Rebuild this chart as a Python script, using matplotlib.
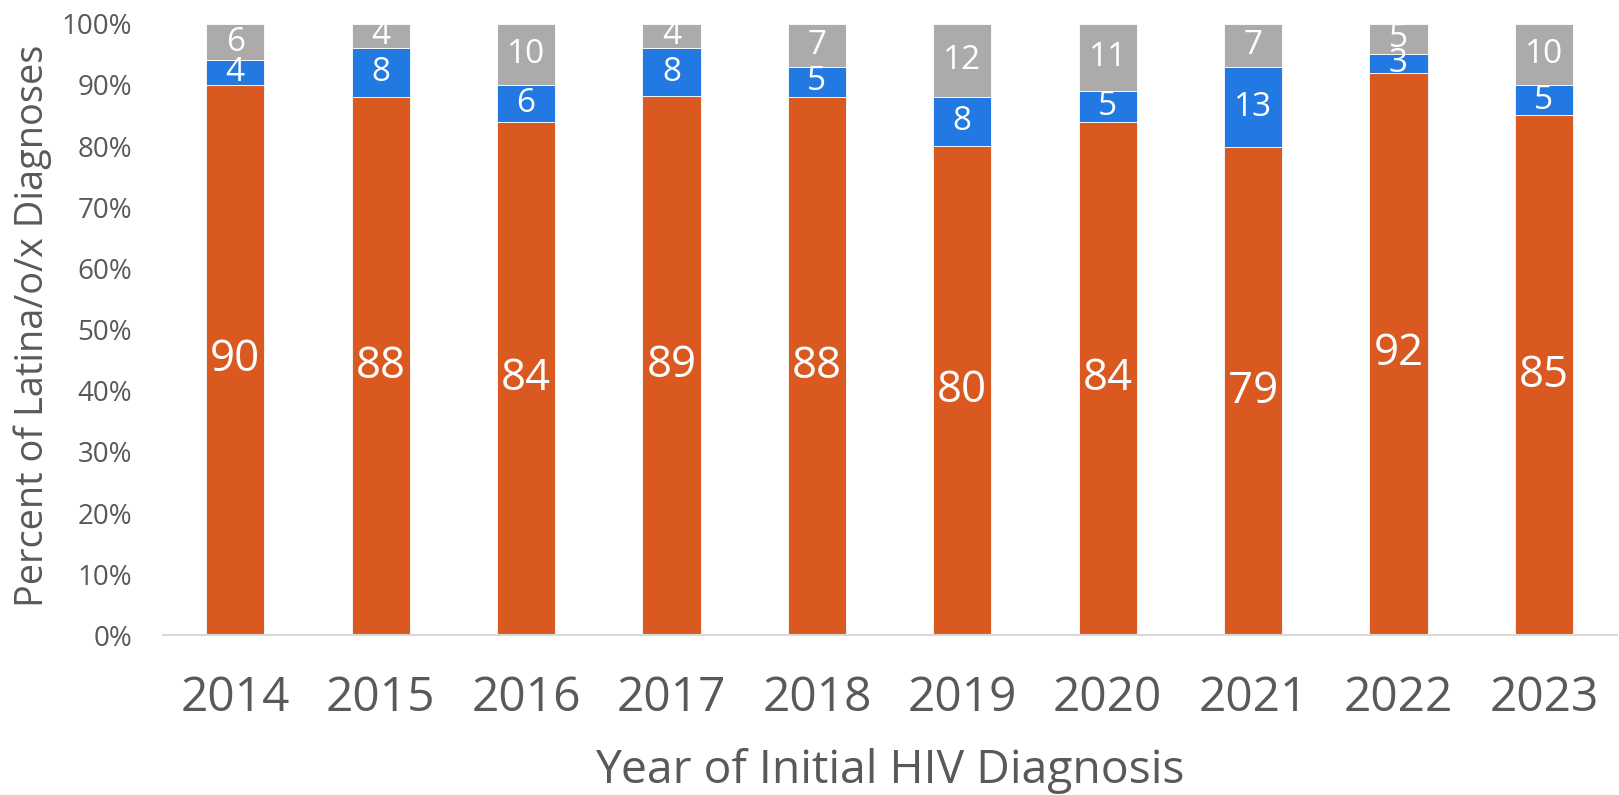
import matplotlib
matplotlib.use('Agg')
import matplotlib.pyplot as plt
import numpy as np
from matplotlib.ticker import MultipleLocator, FuncFormatter

years = ['2014', '2015', '2016', '2017', '2018', '2019', '2020', '2021', '2022', '2023']
orange_vals = [90, 88, 84, 89, 88, 80, 84, 79, 92, 85]
blue_vals = [4, 8, 6, 8, 5, 8, 5, 13, 3, 5]
gray_vals = [6, 4, 10, 4, 7, 12, 11, 7, 5, 10]

ORANGE = '#D95920'
BLUE = '#2179E1'
GRAY = '#ADABA9'
TEXT = '#595959'

plt.rcParams['font.family'] = ['Open Sans', 'DejaVu Sans']

W, H = 1619, 795
fig = plt.figure(figsize=(W / 100, H / 100), dpi=100)
ax = fig.add_axes([162.6 / W, 1 - 635.4 / H, 1454 / W, (635.4 - 23.7) / H])

a = np.array(orange_vals, float)
b = np.array(blue_vals, float)
c = np.array(gray_vals, float)
tot = a + b + c
pa, pb, pc = a / tot * 100, b / tot * 100, c / tot * 100
x = np.arange(len(years))

ba = ax.bar(x, pa, width=0.4, color=ORANGE, edgecolor='white', linewidth=0.6)
bb = ax.bar(x, pb, bottom=pa, width=0.4, color=BLUE, edgecolor='white', linewidth=0.6)
bc = ax.bar(x, pc, bottom=pa + pb, width=0.4, color=GRAY, edgecolor='white', linewidth=0.6)

ax.bar_label(ba, labels=[str(v) for v in orange_vals], label_type='center', color='white', fontsize=31.5)
ax.bar_label(bb, labels=[str(v) for v in blue_vals], label_type='center', color='white', fontsize=24)
ax.bar_label(bc, labels=[str(v) for v in gray_vals], label_type='center', color='white', fontsize=24)

ax.set_xlim(-0.5, len(years) - 0.5)
ax.set_ylim(0, 100)
ax.set_xticks(x)
ax.set_xticklabels(years)
ax.yaxis.set_major_locator(MultipleLocator(10))
ax.yaxis.set_major_formatter(FuncFormatter(lambda v, p: f'{v:.0f}%'))

for s in ['left', 'top', 'right']:
    ax.spines[s].set_visible(False)
ax.spines['bottom'].set_color('#D9D9D9')
ax.spines['bottom'].set_linewidth(1.5)

ax.tick_params(axis='x', length=0, labelsize=34.5, labelcolor=TEXT, pad=28)
ax.tick_params(axis='y', length=0, labelsize=20, labelcolor=TEXT, pad=22)

fig.text(889.6 / W, 1 - 783 / H, 'Year of Initial HIV Diagnosis', ha='center', va='baseline',
         fontsize=33.3, color=TEXT)
fig.text(43 / W, 1 - 326 / H, 'Percent of Latina/o/x Diagnoses', rotation=90, rotation_mode='anchor',
         ha='center', va='baseline', fontsize=27.3, color=TEXT)

fig.savefig('out.png', dpi=100)
